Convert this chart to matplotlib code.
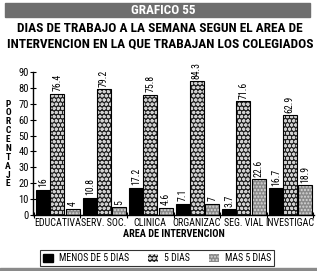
import numpy as np
import matplotlib
matplotlib.use('Agg')
import matplotlib.pyplot as plt
from matplotlib.patches import Rectangle, Patch

areas = ['EDUCATIVA', 'SERV. SOC.', 'CLINICA', 'ORGANIZAC', 'SEG. VIAL', 'INVESTIGAC']
menos5 = [16, 10.8, 17.2, 7.1, 3.7, 16.7]
cinco = [76.4, 79.2, 75.8, 84.3, 71.6, 62.9]
mas5 = [4, 5, 4.6, 7, 22.6, 18.9]
series_names = ['MENOS DE 5 DIAS', '5 DIAS', 'MAS 5 DIAS']
y_ticks = [0, 10, 20, 30, 40, 50, 60, 70, 80, 90]

plt.rcParams['font.family'] = ['Roboto Condensed', 'DejaVu Sans']

fig = plt.figure(figsize=(3.17, 2.71), dpi=100)

# banner and bottom strip
fig.patches.append(Rectangle((5/317, 1 - 17/271), 305/317, 14/271,
                             transform=fig.transFigure, color='#6e6e6e', zorder=0))
fig.patches.append(Rectangle((0, 0), 1, 3/271, transform=fig.transFigure,
                             color='#8a8a8a', zorder=0))
fig.text(0.515, 1 - 10/271, 'GRAFICO 55', ha='center', va='center', color='white',
         fontsize=9.5, fontweight='bold')
fig.text(0.505, 1 - 29/271, 'DIAS DE TRABAJO A LA SEMANA SEGUN EL AREA DE',
         ha='center', va='center', fontsize=9.6, fontweight='bold')
fig.text(0.505, 1 - 44/271, 'INTERVENCION EN LA QUE TRABAJAN LOS COLEGIADOS',
         ha='center', va='center', fontsize=9.6, fontweight='bold')
fig.text(8/317, 1 - 144/271, '\n'.join('PORCENTAJE'), ha='center', va='center',
         fontsize=6.8, fontweight='bold', linespacing=0.98)

ax = fig.add_axes([33/317, 1 - 215/271, 281/317, 143/271])
x = np.arange(len(areas))
w = 0.3
gap = 0.03

ax.bar(x - w, menos5, w, color='black', edgecolor='black', linewidth=0.8)
ax.bar(x, cinco, w, color='#222222', edgecolor='#d0d0d0', hatch='oooo', linewidth=0)
ax.bar(x, cinco, w, fill=False, edgecolor='black', linewidth=0.8)
ax.bar(x + w + gap, mas5, w, color='#8a8a8a', edgecolor='#d8d8d8', hatch='.....', linewidth=0)
ax.bar(x + w + gap, mas5, w, fill=False, edgecolor='black', linewidth=0.8)

for xs, vals in [(x - w, menos5), (x, cinco), (x + w + gap, mas5)]:
    for xi, v in zip(xs, vals):
        ax.text(xi, v + 1.5, f'{v:g}', rotation=90, ha='center', va='bottom', fontsize=7)

ax.set_xlim(-0.5 - 0.02, len(areas) - 0.5 + 0.02)
ax.set_ylim(0, 90)
ax.set_yticks(y_ticks)
ax.set_xticks(x)
ax.set_xticklabels(areas, fontsize=7.2)
ax.tick_params(axis='x', length=0, pad=2)
ax.tick_params(axis='y', labelsize=7.6, direction='inout', length=4, width=0.8, pad=1)
ax.set_xticks(np.arange(-0.5, len(areas)), minor=True)
ax.tick_params(axis='x', which='minor', direction='inout', length=4, width=0.8)
for s in ['top', 'right']:
    ax.spines[s].set_visible(False)
ax.spines['left'].set_linewidth(1.0)
ax.spines['bottom'].set_linewidth(1.0)
ax.set_xlabel('AREA DE INTERVENCION', fontsize=7.4, fontweight='bold', labelpad=1)

handles = [Patch(facecolor='black', edgecolor='black'),
           Patch(facecolor='#222222', edgecolor='#d0d0d0', hatch='oooo', linewidth=0),
           Patch(facecolor='#8a8a8a', edgecolor='#d8d8d8', hatch='.....', linewidth=0)]
leg = fig.legend(handles, series_names, loc='center', ncol=3,
                 bbox_to_anchor=(157/317, 1 - 258/271), fontsize=7,
                 frameon=True, fancybox=False, edgecolor='black',
                 handlelength=1.0, handleheight=0.9, handletextpad=0.6,
                 columnspacing=2.0, borderpad=0.3)
leg.get_frame().set_linewidth(0.8)

fig.savefig('out.png', dpi=100)
